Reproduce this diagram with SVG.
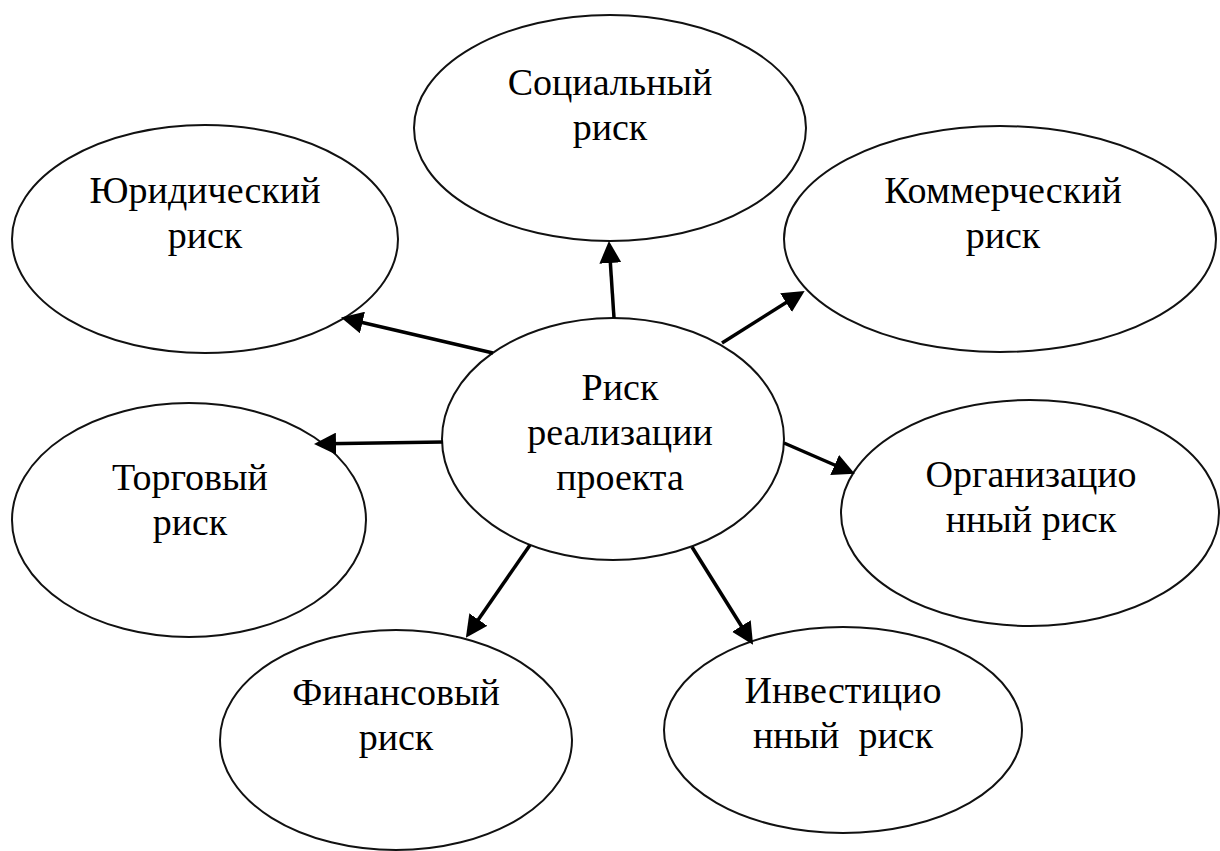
<svg xmlns="http://www.w3.org/2000/svg" width="1220" height="851" viewBox="0 0 1220 851">
<style>
.node ellipse{fill:#fff;stroke:#111;stroke-width:2}
.node text{font-family:'Liberation Serif','Times New Roman',serif;font-size:38px;fill:#000;text-anchor:middle;white-space:pre}
.conn line{stroke:#000;stroke-width:3.5;fill:none}
</style>
<defs>
<marker id="ah" viewBox="0 0 22 22" refX="10" refY="11" markerWidth="22" markerHeight="22" markerUnits="userSpaceOnUse" orient="auto">
<path d="M0,0 L22,11 L0,22 z" fill="#000"/>
</marker>
</defs>
<rect width="1220" height="851" fill="#fff"/>
<g id="n-social" class="node"><ellipse cx="610" cy="128" rx="196" ry="113"/><text x="610" y="95">Социальный</text><text x="610" y="140">риск</text></g>
<g id="n-legal" class="node"><ellipse cx="205" cy="239" rx="193" ry="114"/><text x="205" y="203">Юридический</text><text x="205" y="248">риск</text></g>
<g id="n-commercial" class="node"><ellipse cx="1000" cy="239" rx="216" ry="113"/><text x="1003" y="203">Коммерческий</text><text x="1003" y="248">риск</text></g>
<g id="n-center" class="node"><ellipse cx="613" cy="439" rx="171" ry="121"/><text x="620" y="400">Риск</text><text x="620" y="445">реализации</text><text x="620" y="490">проекта</text></g>
<g id="n-trade" class="node"><ellipse cx="189" cy="520" rx="177" ry="117"/><text x="190" y="490">Торговый</text><text x="190" y="535">риск</text></g>
<g id="n-org" class="node"><ellipse cx="1030" cy="513" rx="189" ry="113"/><text x="1031" y="487">Организацио</text><text x="1031" y="532">нный риск</text></g>
<g id="n-financial" class="node"><ellipse cx="396" cy="740" rx="176" ry="110"/><text x="396" y="705">Финансовый</text><text x="396" y="750">риск</text></g>
<g id="n-invest" class="node"><ellipse cx="843" cy="730" rx="179" ry="103"/><text x="843" y="703">Инвестицио</text><text x="843" y="748">нный  риск</text></g>
<g id="connectors" class="conn">
<line x1="614" y1="318" x2="609.7" y2="253" marker-end="url(#ah)"/>
<line x1="493" y1="353" x2="352.7" y2="320.3" marker-end="url(#ah)"/>
<line x1="722" y1="343" x2="794.5" y2="297.3" marker-end="url(#ah)"/>
<line x1="443" y1="442" x2="326" y2="443.8" marker-end="url(#ah)"/>
<line x1="784" y1="443" x2="843.8" y2="469" marker-end="url(#ah)"/>
<line x1="530" y1="545" x2="472.7" y2="627.8" marker-end="url(#ah)"/>
<line x1="692" y1="547" x2="746.7" y2="634.5" marker-end="url(#ah)"/>
</g>
</svg>
